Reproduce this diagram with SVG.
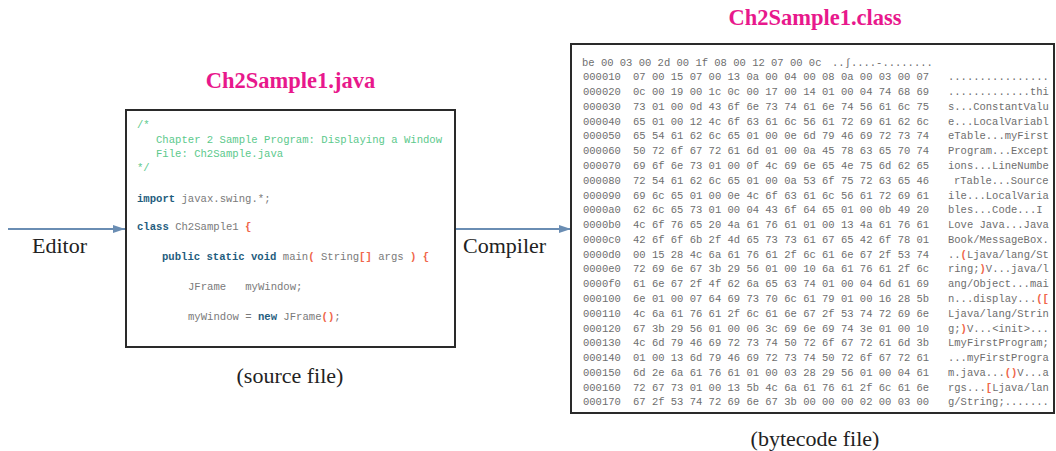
<svg xmlns="http://www.w3.org/2000/svg" width="1056" height="451" viewBox="0 0 1056 451">
<style>
.title{font-family:"Liberation Serif",serif;font-weight:bold;font-size:22.5px;fill:#e8188c;text-anchor:middle}
.lbl{font-family:"Liberation Serif",serif;font-size:22px;fill:#222}
.cap{font-family:"Liberation Serif",serif;font-size:22px;fill:#222;text-anchor:middle}
.box{fill:#fff;stroke:#2a2a2a;stroke-width:2}
.code{font-family:"Liberation Mono",monospace;font-size:10.6px;fill:#7a7a7a}
.cm{fill:#5cc98c}
.kw{fill:#1f5d7e;font-weight:bold}
.br{fill:#f0664a;font-weight:bold}
.hex{font-family:"Liberation Mono",monospace;font-size:10.5px;fill:#6e6e6e}
.hb{fill:#f0664a;font-weight:bold}
.conn{stroke:#6a8db3;stroke-width:2;fill:none}
</style>
<defs>
<marker id="ah" markerWidth="12" markerHeight="8" refX="12" refY="4" orient="auto" markerUnits="userSpaceOnUse">
<path d="M0,0 L12,4 L0,8 Z" fill="#6a8db3"/>
</marker>
</defs>

<g id="connectors">
<line class="conn" x1="8" y1="229" x2="125" y2="229" marker-end="url(#ah)"/>
<line class="conn" x1="456" y1="229" x2="571" y2="229" marker-end="url(#ah)"/>
<text class="lbl" x="32" y="252.5">Editor</text>
<text class="lbl" x="463" y="252.5">Compiler</text>
</g>

<g id="source-file">
<text class="title" x="290.5" y="88">Ch2Sample1.java</text>
<rect class="box" x="126" y="110" width="329" height="237"/>
<g class="code">
<text class="cm" x="137" y="128">/*</text>
<text class="cm" x="156" y="143">Chapter 2 Sample Program: Displaying a Window</text>
<text class="cm" x="156" y="157">File: Ch2Sample.java</text>
<text class="cm" x="137" y="171">*/</text>
<text x="137" y="202"><tspan class="kw">import</tspan> javax.swing.*;</text>
<text x="137" y="230"><tspan class="kw">class</tspan> Ch2Sample1 <tspan class="br">{</tspan></text>
<text x="162" y="260"><tspan class="kw">public static void</tspan> main<tspan class="br">(</tspan> String<tspan class="br">[]</tspan> args <tspan class="br">)</tspan> <tspan class="br">{</tspan></text>
<text x="188" y="290">JFrame&#160;&#160;&#160;myWindow;</text>
<text x="188" y="320">myWindow = <tspan class="kw">new</tspan> JFrame<tspan class="br">()</tspan>;</text>
</g>
<text class="cap" x="290" y="383">(source file)</text>
</g>

<g id="class-file">
<text class="title" x="815" y="25">Ch2Sample1.class</text>
<rect class="box" x="571" y="44" width="483" height="369"/>
<g class="hex">
<text x="582" y="65.5">be 00 03 00 2d 00 1f 08 00 12 07 00 0c</text>
<text x="832" y="65.5">..∫....-........</text>
<text x="583" y="80.3">000010</text><text x="633" y="80.3">07 00 15 07 00 13 0a 00 04 00 08 0a 00 03 00 07</text><text x="948" y="80.3">................</text>
<text x="583" y="95.1">000020</text><text x="633" y="95.1">0c 00 19 00 1c 0c 00 17 00 14 01 00 04 74 68 69</text><text x="948" y="95.1">.............thi</text>
<text x="583" y="109.8">000030</text><text x="633" y="109.8">73 01 00 0d 43 6f 6e 73 74 61 6e 74 56 61 6c 75</text><text x="948" y="109.8">s...ConstantValu</text>
<text x="583" y="124.6">000040</text><text x="633" y="124.6">65 01 00 12 4c 6f 63 61 6c 56 61 72 69 61 62 6c</text><text x="948" y="124.6">e...LocalVariabl</text>
<text x="583" y="139.4">000050</text><text x="633" y="139.4">65 54 61 62 6c 65 01 00 0e 6d 79 46 69 72 73 74</text><text x="948" y="139.4">eTable...myFirst</text>
<text x="583" y="154.2">000060</text><text x="633" y="154.2">50 72 6f 67 72 61 6d 01 00 0a 45 78 63 65 70 74</text><text x="948" y="154.2">Program...Except</text>
<text x="583" y="169">000070</text><text x="633" y="169">69 6f 6e 73 01 00 0f 4c 69 6e 65 4e 75 6d 62 65</text><text x="948" y="169">ions...LineNumbe</text>
<text x="583" y="183.7">000080</text><text x="633" y="183.7">72 54 61 62 6c 65 01 00 0a 53 6f 75 72 63 65 46</text><text x="954" y="183.7">rTable...Source</text>
<text x="583" y="198.5">000090</text><text x="633" y="198.5">69 6c 65 01 00 0e 4c 6f 63 61 6c 56 61 72 69 61</text><text x="948" y="198.5">ile...LocalVaria</text>
<text x="583" y="213.3">0000a0</text><text x="633" y="213.3">62 6c 65 73 01 00 04 43 6f 64 65 01 00 0b 49 20</text><text x="948" y="213.3">bles...Code...I</text>
<text x="583" y="228.1">0000b0</text><text x="633" y="228.1">4c 6f 76 65 20 4a 61 76 61 01 00 13 4a 61 76 61</text><text x="948" y="228.1">Love Java...Java</text>
<text x="583" y="242.9">0000c0</text><text x="633" y="242.9">42 6f 6f 6b 2f 4d 65 73 73 61 67 65 42 6f 78 01</text><text x="948" y="242.9">Book/MessageBox.</text>
<text x="583" y="257.6">0000d0</text><text x="633" y="257.6">00 15 28 4c 6a 61 76 61 2f 6c 61 6e 67 2f 53 74</text><text x="948" y="257.6">..<tspan class="hb">(</tspan>Ljava/lang/St</text>
<text x="583" y="272.4">0000e0</text><text x="633" y="272.4">72 69 6e 67 3b 29 56 01 00 10 6a 61 76 61 2f 6c</text><text x="948" y="272.4">ring;<tspan class="hb">)</tspan>V...java/l</text>
<text x="583" y="287.2">0000f0</text><text x="633" y="287.2">61 6e 67 2f 4f 62 6a 65 63 74 01 00 04 6d 61 69</text><text x="948" y="287.2">ang/Object...mai</text>
<text x="583" y="302">000100</text><text x="633" y="302">6e 01 00 07 64 69 73 70 6c 61 79 01 00 16 28 5b</text><text x="948" y="302">n...display...<tspan class="hb">([</tspan></text>
<text x="583" y="316.7">000110</text><text x="633" y="316.7">4c 6a 61 76 61 2f 6c 61 6e 67 2f 53 74 72 69 6e</text><text x="948" y="316.7">Ljava/lang/Strin</text>
<text x="583" y="331.5">000120</text><text x="633" y="331.5">67 3b 29 56 01 00 06 3c 69 6e 69 74 3e 01 00 10</text><text x="948" y="331.5">g;<tspan class="hb">)</tspan>V...&lt;init&gt;...</text>
<text x="583" y="346.3">000130</text><text x="633" y="346.3">4c 6d 79 46 69 72 73 74 50 72 6f 67 72 61 6d 3b</text><text x="948" y="346.3">LmyFirstProgram;</text>
<text x="583" y="361.1">000140</text><text x="633" y="361.1">01 00 13 6d 79 46 69 72 73 74 50 72 6f 67 72 61</text><text x="948" y="361.1">...myFirstProgra</text>
<text x="583" y="375.9">000150</text><text x="633" y="375.9">6d 2e 6a 61 76 61 01 00 03 28 29 56 01 00 04 61</text><text x="948" y="375.9">m.java...<tspan class="hb">()</tspan>V...a</text>
<text x="583" y="390.6">000160</text><text x="633" y="390.6">72 67 73 01 00 13 5b 4c 6a 61 76 61 2f 6c 61 6e</text><text x="948" y="390.6">rgs...<tspan class="hb">[</tspan>Ljava/lan</text>
<text x="583" y="405.4">000170</text><text x="633" y="405.4">67 2f 53 74 72 69 6e 67 3b 00 00 00 02 00 03 00</text><text x="948" y="405.4">g/String;.......</text>
</g>
<text class="cap" x="815" y="446">(bytecode file)</text>
</g>
</svg>
